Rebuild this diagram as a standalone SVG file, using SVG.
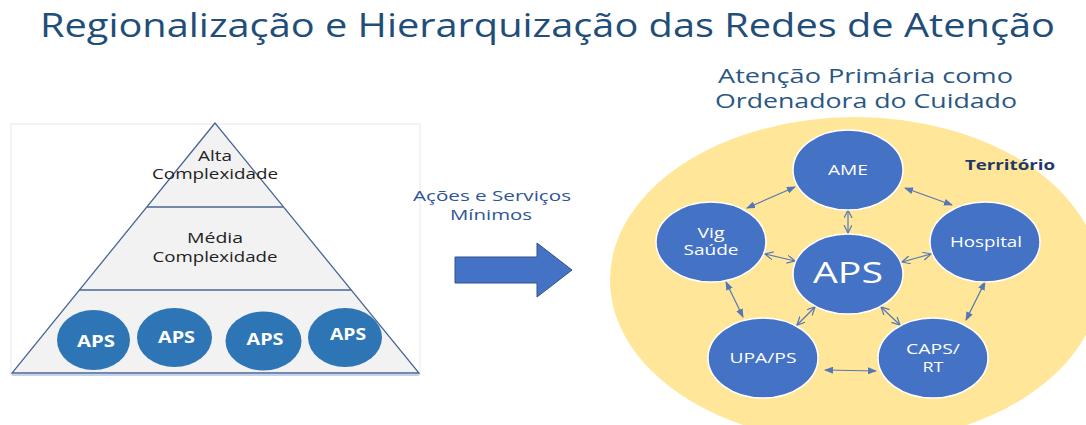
<svg xmlns="http://www.w3.org/2000/svg" width="1086" height="425" viewBox="0 0 1086 425">
  <defs>
    <style>
      .t { font-family: "Open Sans", "Liberation Sans", sans-serif; }
      .title { fill: #1F4E79; font-size: 33px; }
      .sub { fill: #2A5783; font-size: 20px; }
      .pyr { fill: #222222; font-size: 14px; }
      .aps-small { fill: #2E75B6; }
      .aps-txt { fill: #FFFFFF; font-size: 16px; font-weight: bold; }
      .node { fill: #4472C4; stroke: #FFFFFF; stroke-width: 1.5; }
      .ntxt { fill: #FFFFFF; font-size: 14px; }
      .big { fill: #FFFFFF; font-size: 29px; }
      .acoes { fill: #2F5597; font-size: 14px; }
      .terr { fill: #1F3864; font-size: 15px; font-weight: bold; }
      .conn line { stroke: #5677B5; stroke-width: 1.2; fill: none; }
      .filled { marker-start: url(#hf); marker-end: url(#hf); }
      .open { marker-start: url(#ho); marker-end: url(#ho); }
    </style>
    <marker id="hf" markerUnits="userSpaceOnUse" markerWidth="9" markerHeight="7" refX="8" refY="3.5" orient="auto-start-reverse">
      <path d="M0,0 L9,3.5 L0,7 z" fill="#5677B5"/>
    </marker>
    <marker id="ho" markerUnits="userSpaceOnUse" markerWidth="10" markerHeight="10" refX="8" refY="4" orient="auto-start-reverse">
      <path d="M0,0 L8,4 L0,8" fill="none" stroke="#5677B5" stroke-width="1.2"/>
    </marker>
  </defs>

  <rect width="1086" height="425" fill="#FFFFFF"/>

  <text class="t title" x="40" y="37" textLength="1015" lengthAdjust="spacingAndGlyphs">Regionalização e Hierarquização das Redes de Atenção</text>

  <g id="pyramid">
    <rect x="11" y="124" width="409" height="251" fill="#FFFFFF" stroke="#E8E8E8" stroke-width="1"/>
    <polygon points="215,123 12,373 419,373" fill="#F2F2F2" stroke="#4A6595" stroke-width="1.3"/>
    <line x1="12" y1="375" x2="419" y2="375" stroke="#B4C7E7" stroke-width="1.5"/>
    <line x1="147" y1="207" x2="283" y2="207" stroke="#4A6595" stroke-width="1.3"/>
    <line x1="79" y1="290" x2="351" y2="290" stroke="#4A6595" stroke-width="1.3"/>
    <text class="t pyr" x="215" y="161" text-anchor="middle" textLength="34" lengthAdjust="spacingAndGlyphs">Alta</text>
    <text class="t pyr" x="215" y="179" text-anchor="middle" textLength="126" lengthAdjust="spacingAndGlyphs">Complexidade</text>
    <text class="t pyr" x="215" y="243" text-anchor="middle" textLength="56" lengthAdjust="spacingAndGlyphs">Média</text>
    <text class="t pyr" x="215" y="262" text-anchor="middle" textLength="125" lengthAdjust="spacingAndGlyphs">Complexidade</text>
  </g>

  <g id="aps1">
    <ellipse class="aps-small" cx="93.5" cy="340" rx="36.5" ry="30"/>
    <text class="t aps-txt" x="96" y="347" text-anchor="middle" textLength="38" lengthAdjust="spacingAndGlyphs">APS</text>
  </g>
  <g id="aps2">
    <ellipse class="aps-small" cx="174.5" cy="337.5" rx="37.5" ry="29.5"/>
    <text class="t aps-txt" x="176.5" y="343" text-anchor="middle" textLength="37" lengthAdjust="spacingAndGlyphs">APS</text>
  </g>
  <g id="aps3">
    <ellipse class="aps-small" cx="263.5" cy="341" rx="38" ry="29.5"/>
    <text class="t aps-txt" x="265" y="345" text-anchor="middle" textLength="37" lengthAdjust="spacingAndGlyphs">APS</text>
  </g>
  <g id="aps4">
    <ellipse class="aps-small" cx="345" cy="337.5" rx="37" ry="29.5"/>
    <text class="t aps-txt" x="348" y="340" text-anchor="middle" textLength="36" lengthAdjust="spacingAndGlyphs">APS</text>
  </g>

  <g id="acoes">
    <text class="t acoes" x="492" y="201" text-anchor="middle" textLength="158" lengthAdjust="spacingAndGlyphs">Ações e Serviços</text>
    <text class="t acoes" x="491" y="220" text-anchor="middle" textLength="82" lengthAdjust="spacingAndGlyphs">Mínimos</text>
    <polygon points="455,257 537,257 537,243 572,270 537,297 537,283 455,283" fill="#4472C4" stroke="#2F528F" stroke-width="1"/>
  </g>

  <g id="subtitle">
    <text class="t sub" x="865.5" y="83" text-anchor="middle" textLength="295" lengthAdjust="spacingAndGlyphs">Atenção Primária como</text>
    <text class="t sub" x="866" y="108" text-anchor="middle" textLength="302" lengthAdjust="spacingAndGlyphs">Ordenadora do Cuidado</text>
  </g>

  <g id="territorio">
    <ellipse cx="855" cy="280" rx="245" ry="163" fill="#FFE699"/>
    <text class="t terr" x="1010" y="170" text-anchor="middle" textLength="90" lengthAdjust="spacingAndGlyphs">Território</text>
  </g>

  <g id="connectors" class="conn">
    <line class="filled" x1="795" y1="187" x2="747" y2="208"/>
    <line class="filled" x1="905" y1="188" x2="952" y2="205"/>
    <line class="open" x1="848" y1="210" x2="848" y2="233"/>
    <line class="open" x1="765" y1="254" x2="795" y2="261"/>
    <line class="open" x1="902" y1="262" x2="931" y2="254"/>
    <line class="filled" x1="726" y1="282" x2="743" y2="317"/>
    <line class="filled" x1="985" y1="282" x2="966" y2="320"/>
    <line class="open" x1="815" y1="307" x2="797" y2="325"/>
    <line class="open" x1="881" y1="307" x2="900" y2="325"/>
    <line class="filled" x1="825" y1="370" x2="876" y2="371"/>
  </g>

  <g id="ame">
    <ellipse class="node" cx="848" cy="170" rx="55" ry="40"/>
    <text class="t ntxt" x="848" y="175" text-anchor="middle" textLength="40" lengthAdjust="spacingAndGlyphs">AME</text>
  </g>
  <g id="vig">
    <ellipse class="node" cx="711" cy="242" rx="55" ry="40"/>
    <text class="t ntxt" x="711" y="238" text-anchor="middle" textLength="27" lengthAdjust="spacingAndGlyphs">Vig</text>
    <text class="t ntxt" x="711" y="255" text-anchor="middle" textLength="55" lengthAdjust="spacingAndGlyphs">Saúde</text>
  </g>
  <g id="aps">
    <ellipse class="node" cx="848" cy="274" rx="55" ry="40"/>
    <text class="t big" x="848" y="283" text-anchor="middle" textLength="70" lengthAdjust="spacingAndGlyphs">APS</text>
  </g>
  <g id="hospital">
    <ellipse class="node" cx="985" cy="242" rx="55" ry="40"/>
    <text class="t ntxt" x="986" y="247" text-anchor="middle" textLength="72" lengthAdjust="spacingAndGlyphs">Hospital</text>
  </g>
  <g id="upa">
    <ellipse class="node" cx="763" cy="358" rx="55" ry="40"/>
    <text class="t ntxt" x="763" y="363" text-anchor="middle" textLength="67" lengthAdjust="spacingAndGlyphs">UPA/PS</text>
  </g>
  <g id="caps">
    <ellipse class="node" cx="933" cy="358" rx="55" ry="40"/>
    <text class="t ntxt" x="933" y="354" text-anchor="middle" textLength="54" lengthAdjust="spacingAndGlyphs">CAPS/</text>
    <text class="t ntxt" x="933" y="372" text-anchor="middle" textLength="21" lengthAdjust="spacingAndGlyphs">RT</text>
  </g>
</svg>
